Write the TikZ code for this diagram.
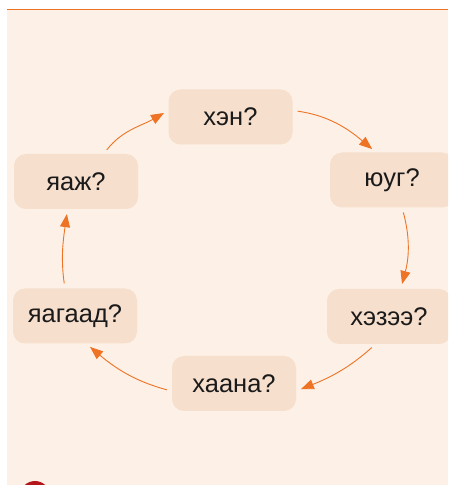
\documentclass[tikz,border=0pt]{standalone}
\usepackage{fontspec}
\setmainfont{Liberation Sans}
\usetikzlibrary{arrows.meta}
\definecolor{pagebg}{HTML}{FDF0E6}
\definecolor{boxbg}{HTML}{F6DFCC}
\definecolor{arrorange}{HTML}{EE7325}
\definecolor{dotred}{HTML}{B5161C}
\definecolor{txt}{HTML}{1A1A1A}

\begin{document}
\begin{tikzpicture}[x=1pt,y=1pt,
    word/.style={fill=boxbg,rounded corners=12pt,minimum width=124pt,minimum height=55pt,
      text=txt,font=\fontsize{25.5}{30}\selectfont,inner sep=0pt},
    arr/.style={arrorange,line width=0.9pt,-{Triangle[length=13pt,width=10pt]},
      shorten <=5pt,shorten >=5pt}]
  \useasboundingbox (0,0) rectangle (448,485);
  \fill[white] (0,0) rectangle (448,485);
  \fill[pagebg] (7,0) rectangle (448,475);
  \draw[arrorange,line width=1pt] (7,475.5)--(448,475.5);
  \begin{scope}
    \clip (0,0) rectangle (448,485);
    \fill[dotred] (35,-11) circle (15);
    \node[word] (hen) at (230.5,368){хэн?};
    \node[word] (yug) at (392,305){юуг?};
    \node[word] (hezee) at (389,168.5){хэзээ?};
    \node[word] (haana) at (234,101.5){хаана?};
    \node[word] (yagaad) at (75,169){яагаад?};
    \node[word] (yaazh) at (76,303.5){яаж?};
  \end{scope}
  \draw[arr] (hen.6) to[out=-8,in=140] (yug.120);
  \draw[arr] (yug.-70) to[out=-75,in=75] (hezee.67);
  \draw[arr] (hezee.-116) to[out=-138,in=22] (haana.-7);
  \draw[arr] (haana.187) to[out=165,in=-40] (yagaad.-68);
  \draw[arr] (yagaad.110) to[out=98,in=-98] (yaazh.-107);
  \draw[arr] (yaazh.45) to[out=52,in=-150] (hen.174);
\end{tikzpicture}
\end{document}
